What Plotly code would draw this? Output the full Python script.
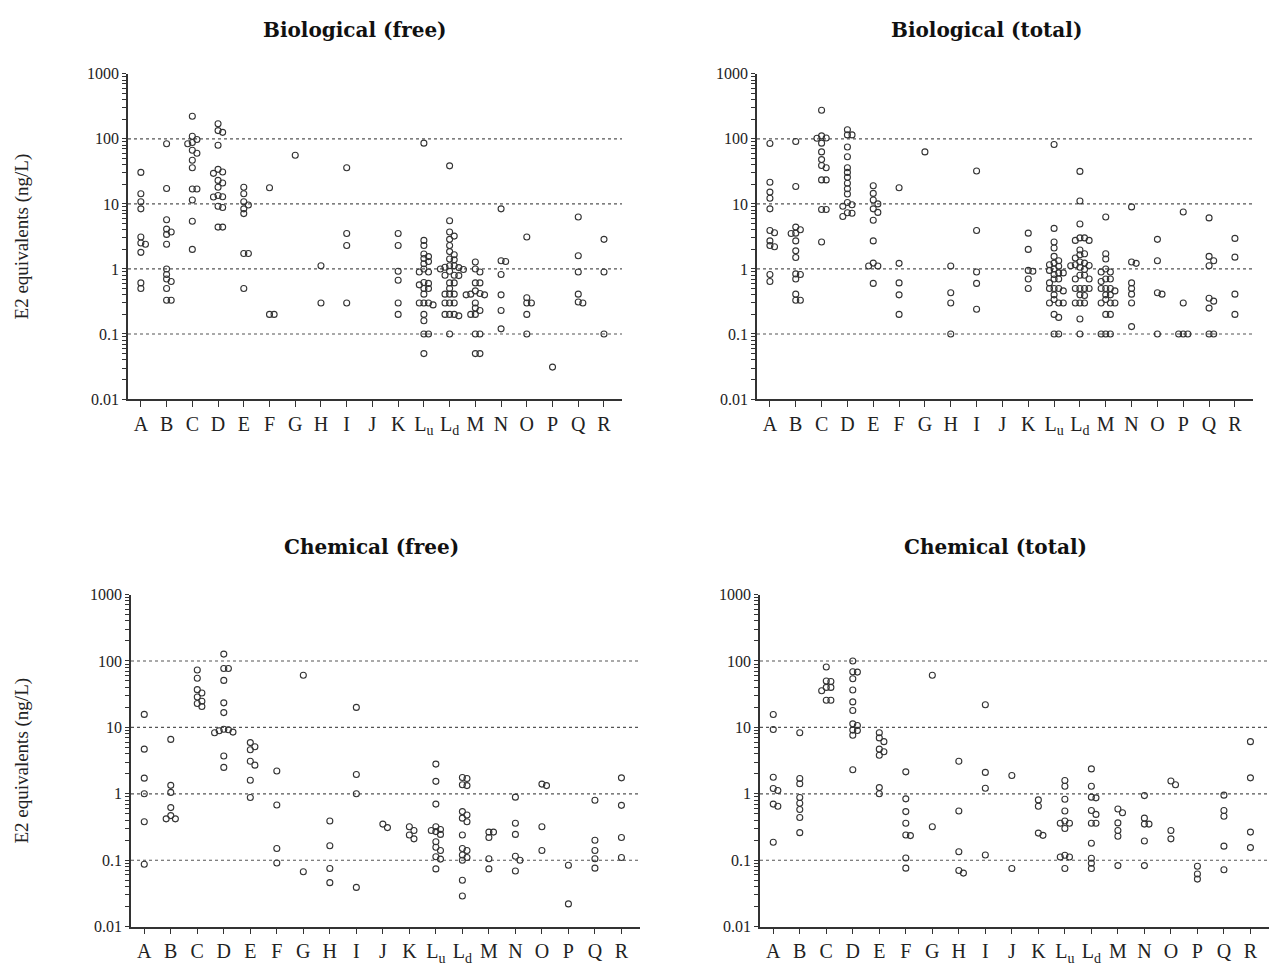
import math
import plotly.graph_objects as go

# Sampling sites (x categories) and their axis labels
categories = ["A", "B", "C", "D", "E", "F", "G", "H", "I", "J", "K",
              "Lu", "Ld", "M", "N", "O", "P", "Q", "R"]
tick_labels = ["A", "B", "C", "D", "E", "F", "G", "H", "I", "J", "K",
               "L<sub>u</sub>", "L<sub>d</sub>", "M", "N", "O", "P", "Q", "R"]
y_tick_values = [0.01, 0.1, 1, 10, 100, 1000]
y_tick_labels = ["0.01", "0.1", "1", "10", "100", "1000"]
reference_levels = [0.1, 1, 10, 100]

# E2 equivalents (ng/L), one list per site, in the order of `categories`
bio_free = [
    [30.5, 14.3, 10.8, 8.4, 3.1, 2.5, 2.4, 1.8, 0.61, 0.50],
    [84, 17.3, 5.7, 4.1, 3.7, 3.4, 2.4, 1.0, 0.82, 0.70, 0.64, 0.50, 0.33, 0.33],
    [223, 110, 98, 88, 84, 67, 60, 47, 36, 17, 17, 11.5, 5.4, 2.0],
    [171, 134, 126, 80, 34, 31, 29.5, 23, 21, 18, 13.5, 12.9, 12.8, 9.2, 8.8, 4.4, 4.4],
    [18, 14.3, 10.8, 9.6, 8.4, 7.1, 1.73, 1.73, 0.50],
    [17.7, 0.2, 0.2],
    [56],
    [1.12, 0.30],
    [36, 3.5, 2.3, 0.30],
    [],
    [3.5, 2.3, 0.92, 0.67, 0.30, 0.20],
    [86, 2.75, 2.3, 1.7, 1.55, 1.45, 1.3, 1.2, 1.0, 0.9, 0.9, 0.62, 0.6, 0.57,
     0.5, 0.5, 0.41, 0.3, 0.3, 0.3, 0.28, 0.2, 0.16, 0.1, 0.1, 0.05],
    [38.5, 5.5, 3.7, 3.2, 2.85, 2.3, 1.85, 1.65, 1.42, 1.38, 1.12, 1.12, 1.06,
     1.05, 1.0, 0.98, 0.92, 0.8, 0.8, 0.79, 0.61, 0.61, 0.5, 0.41, 0.41, 0.41,
     0.3, 0.3, 0.3, 0.2, 0.2, 0.19, 0.2, 0.1],
    [1.28, 1.0, 0.9, 0.61, 0.61, 0.46, 0.42, 0.41, 0.40, 0.40, 0.30, 0.25, 0.23,
     0.2, 0.2, 0.1, 0.1, 0.05, 0.05],
    [8.4, 1.34, 1.3, 0.82, 0.40, 0.23, 0.12],
    [3.1, 0.36, 0.30, 0.30, 0.20, 0.10],
    [0.031],
    [6.3, 1.6, 0.9, 0.41, 0.31, 0.30],
    [2.85, 0.9, 0.1],
]

bio_total = [
    [85, 21.5, 15.2, 12.2, 8.4, 3.9, 3.6, 2.7, 2.3, 2.2, 0.82, 0.64],
    [91, 18.5, 4.4, 4.0, 3.55, 3.5, 2.7, 1.9, 1.5, 0.84, 0.82, 0.70, 0.41, 0.33, 0.33],
    [275, 111, 103, 102, 86, 63, 48, 39, 36, 23.4, 23.4, 8.2, 8.2, 2.6],
    [138, 115, 115, 75, 53, 36, 30.5, 25.6, 20.8, 17.1, 14.2, 10.5, 9.7, 9.2, 7.3, 7.2, 6.4],
    [19, 14.5, 11.5, 10, 8.4, 7.4, 5.6, 2.7, 1.23, 1.11, 1.11, 0.60],
    [17.7, 1.22, 0.61, 0.40, 0.20],
    [63],
    [1.11, 0.43, 0.30, 0.10],
    [32, 3.9, 0.9, 0.6, 0.24],
    [],
    [3.55, 2.0, 0.95, 0.92, 0.70, 0.50],
    [82, 4.2, 2.6, 2.1, 1.56, 1.34, 1.23, 1.16, 1.1, 1.0, 0.95, 0.87, 0.87, 0.82,
     0.70, 0.70, 0.61, 0.5, 0.5, 0.5, 0.46, 0.40, 0.34, 0.3, 0.3, 0.3, 0.2, 0.18,
     0.1, 0.1],
    [31.6, 11.1, 4.9, 3.0, 3.0, 2.75, 2.75, 1.96, 1.71, 1.65, 1.47, 1.28, 1.23,
     1.16, 1.13, 1.12, 1.06, 0.98, 0.8, 0.8, 0.7, 0.7, 0.5, 0.5, 0.5, 0.5, 0.4,
     0.39, 0.3, 0.3, 0.3, 0.17, 0.1],
    [6.3, 1.71, 1.42, 1.0, 0.9, 0.9, 0.7, 0.7, 0.64, 0.5, 0.5, 0.5, 0.46, 0.4,
     0.4, 0.34, 0.3, 0.3, 0.3, 0.2, 0.2, 0.1, 0.1, 0.1],
    [9.0, 1.28, 1.22, 0.61, 0.50, 0.41, 0.30, 0.13],
    [2.85, 1.34, 0.43, 0.41, 0.10],
    [7.5, 0.30, 0.1, 0.1, 0.1],
    [6.1, 1.56, 1.34, 1.12, 0.355, 0.32, 0.25, 0.1, 0.1],
    [2.95, 1.52, 0.41, 0.20],
]

chem_free = [
    [15.7, 4.7, 1.72, 1.0, 0.38, 0.087],
    [6.6, 1.34, 1.05, 0.62, 0.47, 0.42, 0.42],
    [73, 55, 37, 33, 28.7, 24.8, 22.9, 20.6],
    [127, 77, 77, 51, 23.4, 16.7, 9.4, 9.2, 8.9, 8.5, 8.3, 3.7, 2.5],
    [5.9, 5.1, 4.6, 3.1, 2.7, 1.6, 0.88],
    [2.2, 0.68, 0.15, 0.091],
    [61, 0.067],
    [0.39, 0.165, 0.075, 0.046],
    [20, 1.95, 1.0, 0.039],
    [0.35, 0.31],
    [0.32, 0.28, 0.24, 0.21],
    [2.8, 1.54, 0.70, 0.32, 0.29, 0.28, 0.27, 0.245, 0.19, 0.157, 0.14, 0.113,
     0.104, 0.074],
    [1.76, 1.7, 1.37, 1.33, 0.54, 0.48, 0.43, 0.38, 0.24, 0.15, 0.14, 0.12,
     0.11, 0.10, 0.05, 0.029],
    [0.265, 0.265, 0.22, 0.105, 0.074],
    [0.89, 0.36, 0.245, 0.115, 0.10, 0.069],
    [1.4, 1.33, 0.32, 0.14],
    [0.084, 0.022],
    [0.80, 0.20, 0.14, 0.105, 0.076],
    [1.74, 0.67, 0.22, 0.11],
]

chem_total = [
    [15.6, 9.3, 1.78, 1.2, 1.12, 0.70, 0.65, 0.187],
    [8.3, 1.7, 1.42, 0.88, 0.72, 0.58, 0.44, 0.26],
    [81, 50, 49, 40, 40, 35.6, 25.6, 25.6],
    [100, 69, 68, 54, 36.5, 24.2, 18, 11.3, 10.7, 9.1, 9.0, 7.6, 2.3],
    [8.3, 6.95, 6.1, 4.7, 4.3, 3.8, 1.24, 1.0],
    [2.14, 0.84, 0.54, 0.36, 0.24, 0.235, 0.108, 0.076],
    [61, 0.32],
    [3.1, 0.55, 0.134, 0.070, 0.064],
    [21.9, 2.1, 1.21, 0.12],
    [1.89, 0.075],
    [0.81, 0.65, 0.256, 0.237],
    [1.59, 1.3, 0.83, 0.55, 0.39, 0.36, 0.36, 0.30, 0.119, 0.112, 0.112, 0.075],
    [2.37, 1.3, 0.89, 0.87, 0.56, 0.49, 0.36, 0.36, 0.18, 0.107, 0.09, 0.075],
    [0.59, 0.52, 0.365, 0.28, 0.23, 0.083],
    [0.94, 0.43, 0.35, 0.35, 0.195, 0.083],
    [1.56, 1.37, 0.28, 0.21],
    [0.081, 0.062, 0.052],
    [0.955, 0.56, 0.46, 0.163, 0.072],
    [6.1, 1.74, 0.265, 0.155],
]

# ---------------------------------------------------------------------------
W, H = 1276, 972
FONT = "Liberation Serif"
TITLE_FONT = "DejaVu Serif"
INK = "#333333"
X_RANGE = (-0.5, 18.7)
MARKER_PX = 4.6  # spacing between neighbouring circles in the swarm

# minor log ticks at 2..9 of every decade between 0.01 and 1000
minor_ticks = [m * 10.0 ** e for e in range(-2, 3) for m in range(2, 10)]
all_y_ticks = y_tick_values + minor_ticks
all_y_text = y_tick_labels + [""] * len(minor_ticks)

# (data, title, x pixel extent, y pixel extent of the log axis 1000..0.01,
#  title centre x, title centre y, show y title)
panels = [
    (bio_free, "Biological (free)", (128, 622), (67, 398), 355, 22, True),
    (bio_total, "Biological (total)", (757, 1253), (67, 398), 986, 22, False),
    (chem_free, "Chemical (free)", (131, 640), (597, 935), 371, 549, True),
    (chem_total, "Chemical (total)", (760, 1269), (597, 935), 995, 549, False),
]


def swarm(values, px_per_cat, px_per_dec):
    """Spread coincident points sideways so that circles don't overlap."""
    placed = []  # (x_px, y_px)
    offsets = []
    for v in values:
        y = math.log10(v) * px_per_dec
        for k in [0, 1, -1, 2, -2, 3, -3, 4, -4]:
            x = k * MARKER_PX
            if all((x - px) ** 2 + (y - py) ** 2 >= (MARKER_PX * 0.98) ** 2
                   for px, py in placed):
                break
        placed.append((x, y))
        offsets.append(x / px_per_cat)
    return offsets


fig = go.Figure()
annotations = []
shapes = []

for i, (data, title, (x0, x1), (y0, y1), tx, ty, show_ytitle) in enumerate(panels):
    n = i + 1
    xa = "x" if n == 1 else f"x{n}"
    ya = "y" if n == 1 else f"y{n}"
    px_per_cat = (x1 - x0) / (X_RANGE[1] - X_RANGE[0])
    px_per_dec = (y1 - y0) / 5.0

    xs, ys = [], []
    for ci, vals in enumerate(data):
        vals_sorted = sorted(vals, reverse=True)
        for v, off in zip(vals_sorted, swarm(vals_sorted, px_per_cat, px_per_dec)):
            xs.append(ci + off)
            ys.append(v)

    fig.add_trace(go.Scatter(
        x=xs, y=ys, mode="markers", xaxis=xa, yaxis=ya, showlegend=False,
        marker=dict(symbol="circle-open", size=6, color=INK,
                    line=dict(width=1.1, color=INK)),
        hoverinfo="y",
    ))

    xkey = "xaxis" if n == 1 else f"xaxis{n}"
    ykey = "yaxis" if n == 1 else f"yaxis{n}"
    fig.update_layout(**{
        xkey: dict(
            domain=[x0 / W, x1 / W], anchor=ya, range=list(X_RANGE),
            tickmode="array", tickvals=list(range(len(categories))),
            ticktext=tick_labels, ticks="outside", ticklen=6, tickwidth=1,
            tickcolor=INK, showline=True, linecolor=INK, linewidth=1.5,
            showgrid=False, zeroline=False,
            tickfont=dict(family=FONT, size=20, color="#222"),
        ),
        ykey: dict(
            domain=[1 - y1 / H, 1 - y0 / H], anchor=xa, type="log",
            range=[-2, 3], tickmode="array", tickvals=all_y_ticks,
            ticktext=all_y_text, ticks="outside", ticklen=4, tickwidth=1,
            tickcolor=INK, showline=True, linecolor=INK, linewidth=1.5,
            showgrid=False, zeroline=False,
            tickfont=dict(family=FONT, size=16, color="#222"),
        ),
    })

    # dotted reference levels
    for lvl in reference_levels:
        shapes.append(dict(
            type="line", xref=f"{xa} domain", yref=ya, x0=0, x1=1,
            y0=lvl, y1=lvl, line=dict(color="#555", width=1.2, dash="dot"),
            layer="below",
        ))

    annotations.append(dict(
        text=f"<b>{title}</b>", x=tx / W, y=1 - ty / H, xref="paper",
        yref="paper", showarrow=False, xanchor="center", yanchor="middle",
        font=dict(family=TITLE_FONT, size=20, color="#111"),
    ))
    if show_ytitle:
        annotations.append(dict(
            text="E2 equivalents (ng/L)", x=22 / W,
            y=1 - ((y0 + y1) / 2) / H, xref="paper", yref="paper",
            showarrow=False, textangle=-90, xanchor="center",
            yanchor="middle", font=dict(family=FONT, size=19, color="#222"),
        ))

fig.update_layout(
    width=W, height=H, margin=dict(l=0, r=0, t=0, b=0),
    paper_bgcolor="white", plot_bgcolor="white",
    annotations=annotations, shapes=shapes,
)

fig.write_html("out.html")
